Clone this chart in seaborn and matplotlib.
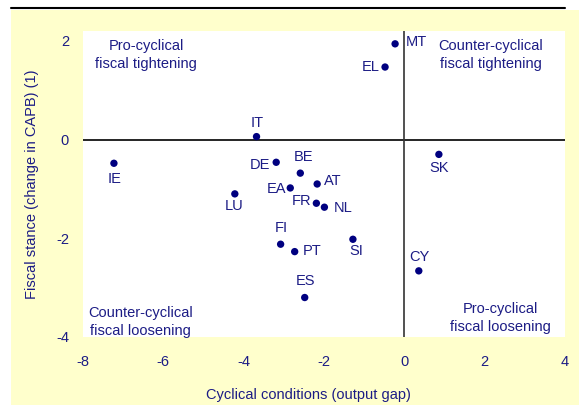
import pandas as pd
import seaborn as sns
import matplotlib.pyplot as plt
from matplotlib.patches import Rectangle
from matplotlib.lines import Line2D

# Data
countries = ["MT", "EL", "IT", "IE", "DE", "BE", "AT", "EA", "LU",
             "FR", "NL", "FI", "PT", "SI", "ES", "CY", "SK"]
output_gap = [-0.23, -0.48, -3.68, -7.23, -3.19, -2.59, -2.17, -2.84, -4.22,
              -2.19, -1.99, -3.08, -2.73, -1.28, -2.48, 0.36, 0.86]
fiscal_stance = [1.94, 1.47, 0.06, -0.48, -0.46, -0.68, -0.90, -0.98, -1.10,
                 -1.29, -1.37, -2.12, -2.27, -2.02, -3.20, -2.66, -0.30]

x_ticks = [-8, -6, -4, -2, 0, 2, 4]
y_ticks = [-4, -2, 0, 2]

quadrant_texts = ["Pro-cyclical\nfiscal tightening",
                  "Counter-cyclical\nfiscal tightening",
                  "Counter-cyclical\nfiscal loosening",
                  "Pro-cyclical\nfiscal loosening"]

df = pd.DataFrame({"country": countries, "gap": output_gap, "stance": fiscal_stance})

# label placement (pixel offsets from the dot)
label_pos = {
    "MT": (11, 2, "left"), "EL": (-5, 0, "right"), "IT": (1, 14, "center"),
    "IE": (1, -16, "center"), "DE": (-6, -3, "right"), "BE": (3, 16, "center"),
    "AT": (7, 3, "left"), "EA": (-4, -1, "right"), "LU": (-1, -12, "center"),
    "FR": (-5, 2, "right"), "NL": (9, -1, "left"), "FI": (1, 16, "center"),
    "PT": (8, 1, "left"), "SI": (3, -12, "center"), "ES": (1, 17, "center"),
    "CY": (1, 14, "center"), "SK": (0, -14, "center"),
}
quad_pos = [(-6.43, 1.71), (2.15, 1.71), (-6.56, -3.69), (2.40, -3.61)]

sns.set_theme(style="white")
plt.rcParams["font.family"] = ["Liberation Sans", "DejaVu Sans"]
plt.rcParams["axes.unicode_minus"] = False

navy = "#1c1c85"
fs = 10.5

fig = plt.figure(figsize=(5.79, 4.05), dpi=100)
fig.patch.set_facecolor("white")
W, H = 579, 405
# pale yellow frame behind the plot, with a rule along the top
fig.patches.append(Rectangle((11 / W, 0), 1 - 11 / W, (H - 10) / H,
                             transform=fig.transFigure, facecolor="#ffffcc",
                             edgecolor="none", zorder=-10))
fig.lines.append(Line2D([11 / W, 565 / W], [(H - 8) / H, (H - 8) / H],
                        transform=fig.transFigure, color="black", lw=1.5,
                        zorder=-10))

ax = fig.add_axes([83 / W, (H - 337) / H, (565 - 83) / W, (337 - 31) / H])
ax.set_facecolor("white")

ax.axhline(0, color="black", lw=1.2, zorder=1)
ax.axvline(0, color="#333333", lw=1.2, zorder=1)

sns.scatterplot(data=df, x="gap", y="stance", ax=ax, color="#000080",
                s=28, edgecolor="none", zorder=3, legend=False)

for _, row in df.iterrows():
    dx, dy, ha = label_pos[row["country"]]
    ax.annotate(row["country"], (row["gap"], row["stance"]), xytext=(dx, dy),
                textcoords="offset pixels", ha=ha, va="center",
                color=navy, fontsize=fs)

for (qx, qy), txt in zip(quad_pos, quadrant_texts):
    ax.text(qx, qy, txt, ha="center", va="center", color=navy,
            fontsize=fs, linespacing=1.35)

ax.set_xlim(-8, 4)
ax.set_ylim(-4, 2.2)
ax.set_xticks(x_ticks)
ax.set_yticks(y_ticks)
for s in ax.spines.values():
    s.set_visible(False)
ax.tick_params(axis="both", length=0, colors=navy, labelsize=fs)
ax.tick_params(axis="x", pad=13)
ax.tick_params(axis="y", pad=10)

ax.set_xlabel("Cyclical conditions (output gap)", color=navy, fontsize=fs)
ax.set_ylabel("Fiscal stance (change in CAPB) (1)", color=navy, fontsize=fs)
ax.xaxis.set_label_coords(0.468, -0.167)
ax.yaxis.set_label_coords(-0.091, 0.5)

fig.savefig("out.png", dpi=100)
